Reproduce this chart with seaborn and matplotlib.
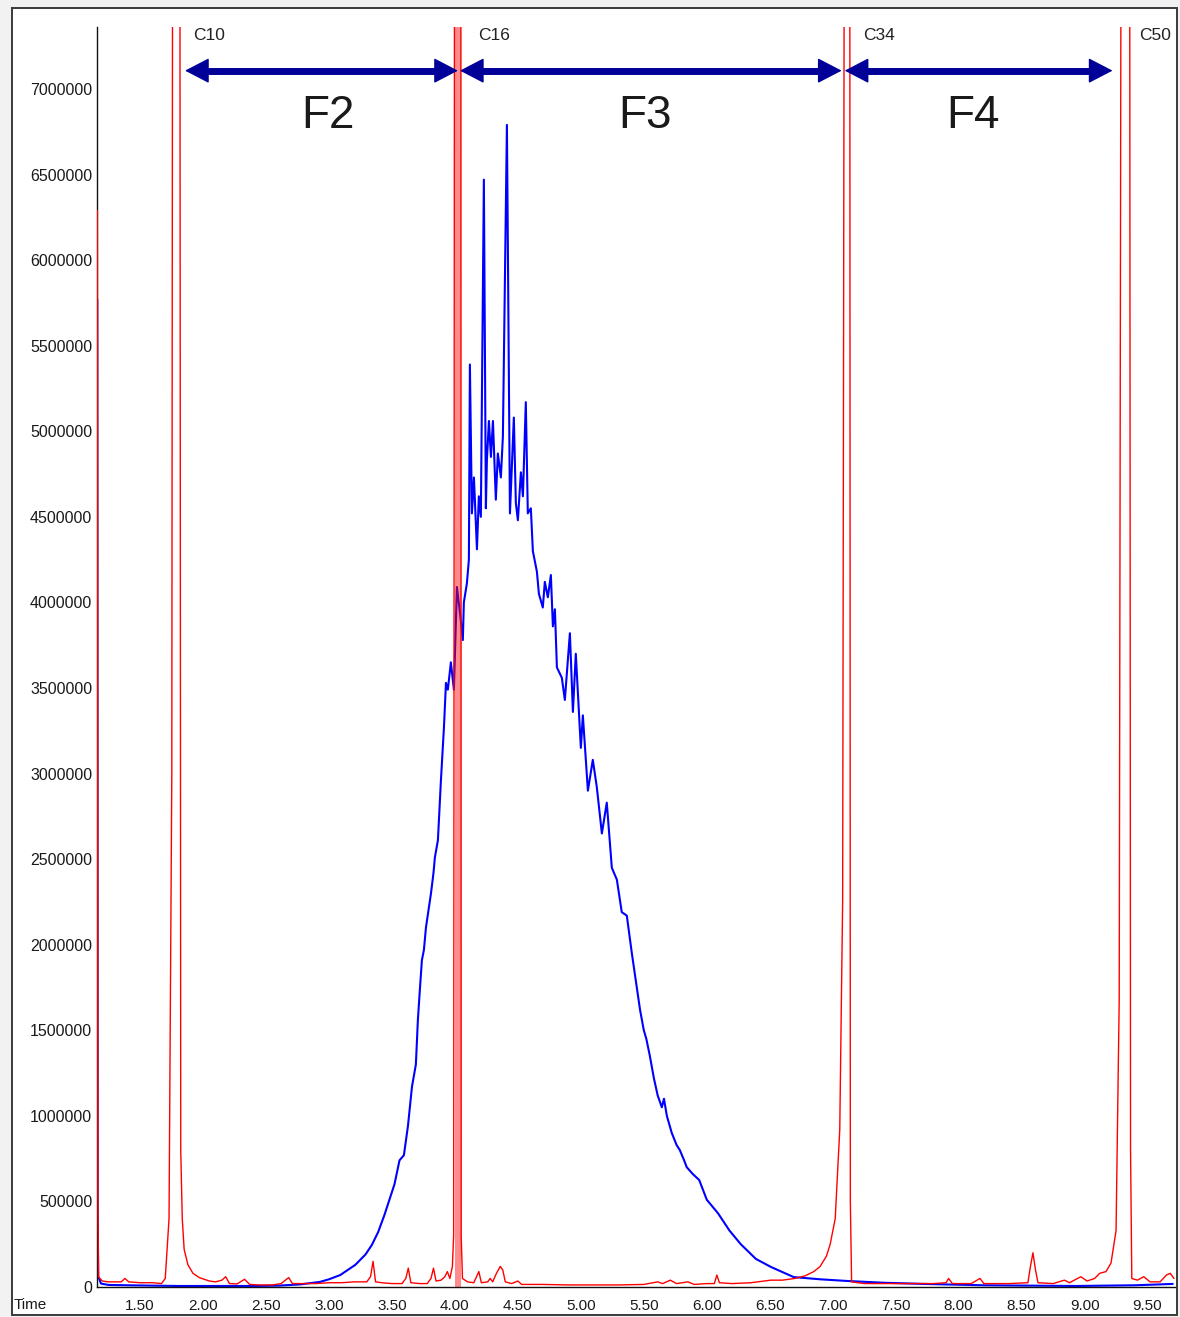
import numpy as np
import pandas as pd
import matplotlib
matplotlib.use("Agg")
import matplotlib.pyplot as plt
from matplotlib.patches import Rectangle
from matplotlib.ticker import MultipleLocator, FixedLocator, FuncFormatter
import seaborn as sns

# ---------------- data (time in min, intensity in millions of counts) ----------------
blue_time = [1.160, 1.163, 1.168, 1.19, 1.25, 1.40, 1.60, 1.80, 2.00, 2.20, 2.40, 2.60,
             2.77, 2.93, 3.00, 3.09, 3.21, 3.29, 3.34, 3.39, 3.44, 3.48, 3.52, 3.56,
             3.595, 3.627, 3.659, 3.69, 3.706, 3.722, 3.738, 3.754, 3.77, 3.79, 3.81,
             3.83, 3.841, 3.865, 3.889, 3.913, 3.929, 3.944, 3.968, 3.992, 4.016, 4.04,
             4.063, 4.071, 4.095, 4.111, 4.119, 4.135, 4.151, 4.175, 4.19, 4.206, 4.23,
             4.246, 4.254, 4.27, 4.286, 4.302, 4.325, 4.341, 4.365, 4.381, 4.413, 4.437,
             4.468, 4.484, 4.50, 4.524, 4.54, 4.563, 4.579, 4.603, 4.619, 4.635, 4.651,
             4.667, 4.698, 4.714, 4.738, 4.762, 4.778, 4.794, 4.81, 4.849, 4.873, 4.913,
             4.937, 4.96, 5.00, 5.016, 5.056, 5.095, 5.127, 5.167, 5.206, 5.246, 5.286,
             5.325, 5.365, 5.405, 5.444, 5.47, 5.50, 5.52, 5.548, 5.58, 5.61, 5.643,
             5.66, 5.683, 5.722, 5.76, 5.786, 5.82, 5.841, 5.889, 5.94, 6.00, 6.09,
             6.18, 6.27, 6.39, 6.51, 6.69, 6.90, 7.12, 7.40, 7.72, 8.20, 8.93, 9.40, 9.70]
blue_signal = [5.77, 0.45, 0.06, 0.02, 0.012, 0.01, 0.008, 0.006, 0.006, 0.006, 0.006, 0.008,
               0.015, 0.03, 0.045, 0.07, 0.13, 0.19, 0.245, 0.32, 0.42, 0.51, 0.60, 0.74,
               0.77, 0.94, 1.17, 1.30, 1.56, 1.74, 1.91, 1.97, 2.10, 2.20, 2.30,
               2.42, 2.51, 2.61, 2.96, 3.27, 3.53, 3.49, 3.65, 3.49, 4.09, 3.94,
               3.78, 4.00, 4.11, 4.25, 5.39, 4.52, 4.73, 4.31, 4.62, 4.50, 6.47,
               4.55, 4.83, 5.06, 4.85, 5.06, 4.60, 4.87, 4.73, 4.97, 6.79, 4.52,
               5.08, 4.58, 4.48, 4.76, 4.62, 5.17, 4.52, 4.55, 4.30, 4.24, 4.18,
               4.05, 3.97, 4.12, 4.03, 4.16, 3.86, 3.96, 3.62, 3.56, 3.43, 3.82,
               3.36, 3.70, 3.15, 3.34, 2.90, 3.08, 2.92, 2.65, 2.83, 2.45, 2.38,
               2.19, 2.17, 1.95, 1.75, 1.62, 1.50, 1.45, 1.35, 1.22, 1.12, 1.05,
               1.10, 1.00, 0.90, 0.83, 0.80, 0.74, 0.70, 0.66, 0.625, 0.51, 0.43,
               0.33, 0.25, 0.164, 0.117, 0.058, 0.045, 0.035, 0.025, 0.018, 0.010, 0.006, 0.010, 0.018]

red_time = [1.161, 1.165, 1.170, 1.20, 1.25, 1.30, 1.35, 1.38, 1.41, 1.50, 1.60, 1.67,
            1.70, 1.73, 1.752, 1.760, 1.815, 1.823, 1.835, 1.85, 1.88, 1.92, 1.97,
            2.05, 2.10, 2.15, 2.18, 2.21, 2.27, 2.33, 2.37, 2.45, 2.55, 2.62, 2.68,
            2.71, 2.80, 2.90, 3.00, 3.10, 3.20, 3.30, 3.33, 3.35, 3.37, 3.42, 3.50,
            3.58, 3.61, 3.63, 3.65, 3.72, 3.78, 3.81, 3.83, 3.85, 3.89, 3.92, 3.94,
            3.96, 3.98, 3.99, 3.998, 4.047, 4.05, 4.06, 4.10, 4.15, 4.19, 4.21, 4.26,
            4.28, 4.30, 4.33, 4.36, 4.38, 4.40, 4.45, 4.50, 4.53, 4.70, 4.90, 5.10,
            5.30, 5.50, 5.61, 5.65, 5.71, 5.76, 5.85, 5.90, 6.00, 6.06, 6.08, 6.10,
            6.20, 6.35, 6.51, 6.60, 6.70, 6.78, 6.85, 6.90, 6.95, 6.98, 7.02, 7.056,
            7.079, 7.095, 7.135, 7.14, 7.15, 7.25, 7.40, 7.60, 7.80, 7.90, 7.92, 7.95,
            8.10, 8.17, 8.20, 8.40, 8.55, 8.57, 8.59, 8.61, 8.63, 8.75, 8.84, 8.88,
            8.97, 9.02, 9.08, 9.12, 9.17, 9.21, 9.25, 9.275, 9.293, 9.357, 9.365, 9.375,
            9.42, 9.47, 9.52, 9.60, 9.65, 9.68, 9.71]
red_signal = [6.29, 0.5, 0.06, 0.035, 0.03, 0.03, 0.03, 0.05, 0.03, 0.025, 0.025, 0.02,
              0.05, 0.4, 3.0, 9.5, 9.5, 0.8, 0.40, 0.22, 0.13, 0.08, 0.055,
              0.035, 0.03, 0.04, 0.06, 0.02, 0.018, 0.045, 0.015, 0.012, 0.012, 0.02, 0.055,
              0.02, 0.02, 0.02, 0.025, 0.025, 0.03, 0.03, 0.06, 0.15, 0.03, 0.025, 0.02,
              0.02, 0.05, 0.11, 0.025, 0.02, 0.02, 0.05, 0.11, 0.035, 0.04, 0.06, 0.09,
              0.05, 0.12, 0.3, 9.5, 9.5, 0.3, 0.05, 0.03, 0.025, 0.09, 0.025, 0.03,
              0.05, 0.03, 0.08, 0.12, 0.10, 0.03, 0.02, 0.035, 0.015, 0.015, 0.012, 0.012,
              0.012, 0.015, 0.03, 0.02, 0.04, 0.02, 0.03, 0.015, 0.02, 0.02, 0.07, 0.025,
              0.02, 0.025, 0.04, 0.04, 0.05, 0.065, 0.09, 0.12, 0.18, 0.25, 0.40, 0.92,
              2.26, 9.5, 9.5, 0.5, 0.03, 0.02, 0.02, 0.02, 0.02, 0.025, 0.05, 0.02,
              0.02, 0.05, 0.02, 0.02, 0.025, 0.12, 0.20, 0.10, 0.025, 0.02, 0.04, 0.025,
              0.06, 0.035, 0.05, 0.08, 0.09, 0.14, 0.33, 1.68, 9.5, 9.5, 0.8, 0.05,
              0.04, 0.06, 0.03, 0.03, 0.07, 0.08, 0.05]

standard_labels = ["C10", "C16", "C34", "C50"]
standard_label_time = [1.921, 4.183, 7.238, 9.437]
fraction_labels = ["F2", "F3", "F4"]
fraction_start = [1.857, 4.040, 7.095]
fraction_end = [4.024, 7.071, 9.222]
fraction_label_time = [2.992, 5.508, 8.111]

y_ticks = [0, 500000, 1000000, 1500000, 2000000, 2500000, 3000000, 3500000,
           4000000, 4500000, 5000000, 5500000, 6000000, 6500000, 7000000]
x_tick_labels = ["1.50", "2.00", "2.50", "3.00", "3.50", "4.00", "4.50", "5.00",
                 "5.50", "6.00", "6.50", "7.00", "7.50", "8.00", "8.50", "9.00", "9.50"]

blue_df = pd.DataFrame({"time": blue_time, "signal": np.array(blue_signal) * 1e6})
red_df = pd.DataFrame({"time": red_time, "signal": np.array(red_signal) * 1e6})

# ---------------- figure ----------------
sns.set_style("white")
plt.rcParams["font.family"] = ["Liberation Sans", "DejaVu Sans"]

W, H = 1180, 1317
fig = plt.figure(figsize=(W / 100, H / 100), dpi=100, facecolor="#f2f2f2")
fig.patches.append(Rectangle((12 / W, 1 - 1315 / H), (1177 - 12) / W, (1315 - 8) / H,
                             transform=fig.transFigure, facecolor="white",
                             edgecolor="#3a3a3a", lw=1.4, zorder=-10))
ax = fig.add_axes([97 / W, 1 - 1287 / H, (1175 - 97) / W, (1287 - 27) / H])
ax.set_facecolor("white")

sns.lineplot(data=blue_df, x="time", y="signal", ax=ax, color="#0000ff", lw=1.5,
             sort=False, estimator=None, zorder=2)
sns.lineplot(data=red_df, x="time", y="signal", ax=ax, color="#ff0000", lw=1.0,
             sort=False, estimator=None, zorder=3)
# saturated C16 peak appears as a broad pale-red band
mask = (red_df["time"] >= 3.998) & (red_df["time"] <= 4.047)
ax.fill_between(red_df["time"], 0, red_df["signal"], where=mask, color="#ff0000",
                alpha=0.45, lw=0, zorder=4)

ax.set_xlim(1.158, 9.718)
ax.set_ylim(0, 7362000)

# axes styling
for s in ["top", "right"]:
    ax.spines[s].set_visible(False)
for s in ["left", "bottom"]:
    ax.spines[s].set_color("#111111")
    ax.spines[s].set_linewidth(1.0)

major_x = [1.5 + 0.5 * i for i in range(len(x_tick_labels))]
ax.xaxis.set_major_locator(FixedLocator(major_x))
ax.set_xticklabels(x_tick_labels)
ax.xaxis.set_minor_locator(MultipleLocator(0.1))
ax.set_yticks(y_ticks)
ax.yaxis.set_major_formatter(FuncFormatter(lambda v, p: f"{int(round(v))}"))
ax.tick_params(axis="x", which="major", direction="out", length=6, width=1.0,
               color="#111111", labelsize=11, pad=3, labelcolor="#1a1a1a")
ax.tick_params(axis="x", which="minor", direction="out", length=3, width=1.0,
               color="#111111")
ax.tick_params(axis="y", which="major", direction="out", length=2.5, width=1.0,
               color="#111111", labelsize=11.5, pad=1, labelcolor="#1a1a1a")
ax.set_xlabel("")
ax.set_ylabel("")
fig.text(14 / W, 1 - 1305 / H, "Time", fontsize=11, color="#1a1a1a", ha="left", va="center")

# standard labels
for lab, t in zip(standard_labels, standard_label_time):
    ax.text(t, 7315000, lab, fontsize=12.5, color="#222222", ha="left", va="center")

# fraction arrows: thick shaft + sharp triangular heads
arrow_y = 7107000
arrow_color = "#000099"
for a, b in zip(fraction_start, fraction_end):
    ax.hlines(arrow_y, a + 0.1, b - 0.1, color=arrow_color, lw=5, zorder=5)
    ax.annotate("", xy=(b, arrow_y), xytext=(a, arrow_y),
                arrowprops=dict(arrowstyle="<|-|>,head_length=1.0,head_width=0.52",
                                mutation_scale=15.5, color=arrow_color, lw=1.0,
                                shrinkA=0, shrinkB=0), zorder=5)
for lab, t in zip(fraction_labels, fraction_label_time):
    ax.text(t, 6774000, lab, fontsize=33, color="#1a1a1a", ha="center", va="baseline")

fig.savefig("out.png", dpi=100, facecolor=fig.get_facecolor())
